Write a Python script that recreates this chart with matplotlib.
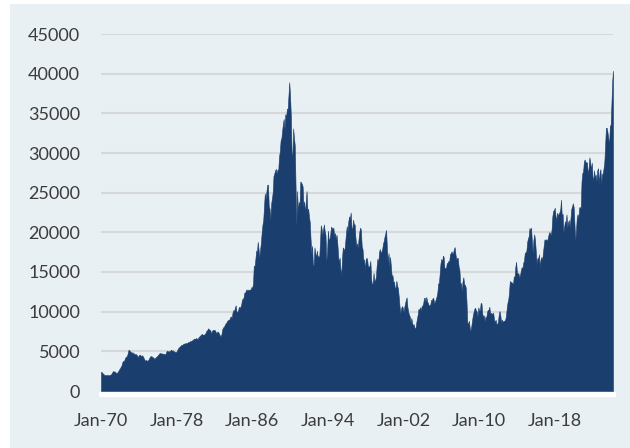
import numpy as np
import pandas as pd
import matplotlib.pyplot as plt
import matplotlib.dates as mdates
from matplotlib.patches import Rectangle

# ===============================
# Nikkei 225, monthly closes
# ===============================
close_1970s = [
    2400, 2380, 2220, 2190, 1990, 2030, 1980, 2000, 2030, 2010, 1980, 1987,
    2050, 2150, 2290, 2480, 2500, 2430, 2450, 2260, 2280, 2370, 2530, 2714,
    2850, 3050, 3200, 3600, 3800, 3700, 4000, 4250, 4350, 4400, 4800, 5208,
    5100, 5000, 4900, 4800, 4900, 4700, 4750, 4600, 4650, 4600, 4400, 4306,
    4500, 4600, 4500, 4400, 4500, 4400, 4200, 4000, 3800, 3900, 3850, 3817,
    3900, 4100, 4300, 4400, 4400, 4300, 4250, 4150, 4050, 4200, 4300, 4358,
    4500, 4600, 4750, 4800, 4750, 4700, 4750, 4650, 4700, 4600, 4700, 4990,
    5100, 5000, 4950, 5050, 5100, 5200, 5050, 5150, 5000, 5000, 4900, 4866,
    5000, 5200, 5400, 5500, 5600, 5700, 5800, 5800, 5900, 5950, 6000, 6001,
    6050, 6000, 6100, 6200, 6100, 6300, 6250, 6350, 6400, 6500, 6600, 6569,
]
close_1980s = [
    6600, 6700, 6500, 6600, 6800, 6900, 7000, 7100, 7200, 7100, 7100, 7116,
    7200, 7400, 7600, 7700, 7900, 7800, 7700, 7600, 7200, 7600, 7700, 7682,
    7700, 7600, 7300, 7400, 7500, 7400, 7200, 7000, 6900, 7200, 7800, 8017,
    8100, 8300, 8500, 8600, 8800, 8900, 9000, 9000, 9300, 9400, 9200, 9894,
    10200, 10100, 10500, 10800, 10000, 10000, 10100, 10600, 10500, 10600, 10900, 11543,
    11600, 11800, 12400, 12400, 12700, 12800, 12600, 12800, 12700, 12800, 12800, 13113,
    13000, 13600, 15800, 15700, 16600, 17700, 17500, 18800, 17900, 16900, 17800, 18701,
    20000, 21000, 21500, 23300, 24900, 24200, 25100, 26000, 26000, 23300, 23000, 21564,
    23600, 24300, 25000, 27100, 27400, 27800, 28000, 27400, 27900, 27800, 29600, 30159,
    31600, 31900, 32800, 33700, 34300, 33000, 34900, 34500, 35600, 35500, 37300, 38916,
]
close_1990s = [
    37200, 34600, 29980, 29600, 33100, 31900, 31000, 25900, 20900, 25200, 22500, 23849,
    23300, 26400, 26300, 26100, 25800, 23300, 23900, 22300, 23900, 25200, 22700, 22984,
    22000, 21300, 19300, 17400, 18300, 15900, 15900, 18100, 17400, 16800, 17700, 16925,
    17000, 16900, 18600, 20900, 20500, 19600, 20400, 21000, 20100, 19700, 16400, 17417,
    20200, 19100, 19100, 19700, 20700, 20600, 20400, 20600, 19600, 19900, 19100, 19723,
    18600, 17100, 16100, 16800, 15400, 14500, 16700, 18100, 17900, 17700, 18700, 19868,
    20800, 20100, 21400, 22000, 21700, 22500, 20700, 20200, 21600, 21000, 21000, 19361,
    18300, 18600, 18000, 19200, 20100, 20600, 20300, 18200, 17900, 16500, 16600, 15259,
    16600, 16800, 16500, 15600, 15700, 15800, 16400, 14100, 13400, 13600, 14900, 13842,
    14000, 14400, 15800, 16700, 16100, 17500, 17900, 17400, 17600, 17900, 18600, 18934,
]
close_2000s = [
    19500, 19900, 20300, 17900, 16300, 17400, 15700, 16900, 15700, 14500, 14600, 13786,
    13800, 12900, 13000, 13900, 13300, 12900, 11900, 10700, 9800, 10400, 10700, 10543,
    9900, 10600, 11000, 11500, 11800, 10600, 10000, 9600, 9400, 8600, 9200, 8579,
    8300, 8400, 7970, 7830, 8420, 9080, 9560, 10340, 10220, 10560, 10100, 10677,
    10780, 11040, 11720, 11760, 11240, 11860, 11330, 11080, 10820, 10770, 10900, 11489,
    11390, 11740, 11670, 11010, 11280, 11580, 11900, 12410, 13570, 13610, 14870, 16111,
    16650, 16210, 17060, 16910, 15470, 15510, 15460, 16140, 16130, 16400, 16270, 17226,
    17380, 17600, 17290, 17400, 17880, 18140, 17250, 16570, 16790, 16740, 15680, 15308,
    13590, 13600, 12530, 13850, 14340, 13480, 13380, 13070, 11260, 8580, 8510, 8860,
    7990, 7570, 8110, 8830, 9520, 9960, 10360, 10490, 10130, 10030, 9350, 10546,
]
close_2010s = [
    10200, 10130, 11090, 11060, 9770, 9380, 9540, 8820, 9370, 9200, 9940, 10229,
    10240, 10620, 9760, 9850, 9690, 9820, 9830, 8950, 8700, 8990, 8430, 8455,
    8800, 9720, 10080, 9520, 8540, 9010, 8700, 8840, 8870, 8930, 9450, 10395,
    11140, 11560, 12400, 13860, 13770, 13680, 13670, 13390, 14460, 14330, 15660, 16291,
    14910, 14840, 14830, 14300, 14630, 15160, 15620, 15420, 16170, 16410, 17460, 17451,
    17670, 18800, 19210, 19520, 20560, 20240, 20590, 18890, 17390, 19080, 19750, 19034,
    17520, 16030, 16760, 16670, 17230, 15580, 16570, 16890, 16450, 17430, 18310, 19114,
    19040, 19120, 18910, 19200, 19650, 20030, 19930, 19650, 20360, 22010, 22720, 22765,
    23100, 22070, 21450, 22470, 22200, 22300, 22550, 22870, 24120, 21920, 22350, 20015,
    20770, 21390, 21210, 22260, 20600, 21280, 21520, 20700, 21760, 22930, 23290, 23657,
]
close_2020s = [
    23200, 21140, 18920, 20190, 21880, 22290, 21710, 23140, 23190, 22980, 26430, 27444,
    27660, 28970, 29180, 28810, 28860, 28790, 27280, 28090, 29450, 28890, 27820, 28792,
    27000, 26530, 27820, 26850, 27280, 26390, 27800, 28090, 25940, 27590, 27970, 26095,
    27330, 27450, 28040, 28860, 30890, 33190, 33170, 32620, 31860, 30860, 33490, 33464,
    36290, 39170, 40370,
]

closes = np.array(close_1970s + close_1980s + close_1990s
                  + close_2000s + close_2010s + close_2020s, dtype=float)
dates = pd.date_range("1970-01-01", periods=len(closes), freq="MS")

y_ticks = np.arange(0, 45001, 5000)
x_tick_years = [1970, 1978, 1986, 1994, 2002, 2010, 2018]

# ===============================
# Figure
# ===============================
PANEL = "#e8f0f3"
NAVY = "#1a3e6e"
TEXT = "#3c3c3c"

plt.rcParams["font.family"] = ["Lato", "DejaVu Sans"]

fig = plt.figure(figsize=(6.3, 4.48), dpi=100, facecolor="white")
# light panel behind everything, white strip on the left and top
fig.patches.append(Rectangle((10 / 630, 0), 1, 1 - 4 / 448,
                             transform=fig.transFigure, facecolor=PANEL,
                             edgecolor="none", zorder=-10))

ax = fig.add_axes([101 / 630, 1 - 391 / 448, 512 / 630, (391 - 34) / 448])
ax.set_facecolor(PANEL)

ax.fill_between(dates, closes, 0, color=NAVY, linewidth=0.4,
                edgecolor=NAVY, zorder=3)

ax.set_ylim(0, 45000)
ax.set_xlim(dates[0], dates[-1])
ax.set_yticks(y_ticks)
ax.set_yticklabels([str(v) for v in y_ticks])
ax.set_xticks([pd.Timestamp(f"{y}-01-01") for y in x_tick_years])
ax.xaxis.set_major_formatter(mdates.DateFormatter("%b-%y"))

ax.grid(axis="y", color="#d6d8da", linewidth=1.5, zorder=1)
ax.grid(axis="x", visible=False)

for side in ["top", "left", "right"]:
    ax.spines[side].set_visible(False)
ax.spines["bottom"].set_color("white")
ax.spines["bottom"].set_linewidth(3.6)
ax.spines["bottom"].set_position(("outward", 1.8))

ax.tick_params(axis="both", length=0, labelsize=13, labelcolor=TEXT)
ax.tick_params(axis="y", pad=15)
ax.tick_params(axis="x", pad=14)

fig.savefig("out.png", dpi=100, facecolor="white")
